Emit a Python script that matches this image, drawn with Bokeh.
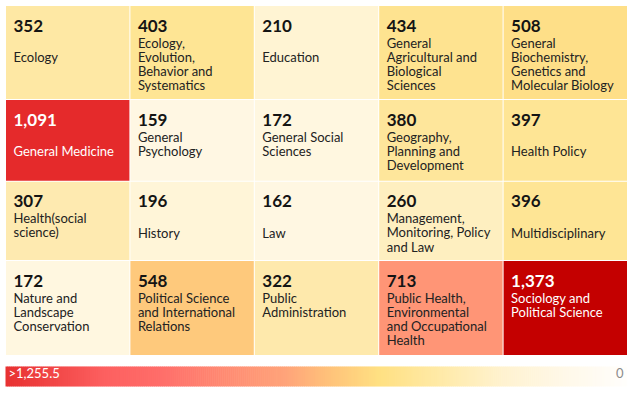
import numpy as np
from bokeh.plotting import figure
from bokeh.models import Range1d, ColumnDataSource, LinearColorMapper
from bokeh.transform import transform
from bokeh.core.properties import value
from bokeh.embed import file_html
from bokeh.resources import INLINE

# ---- data ----
categories = [
    "Ecology", "Ecology,\nEvolution,\nBehavior and\nSystematics", "Education",
    "General\nAgricultural and\nBiological\nSciences",
    "General\nBiochemistry,\nGenetics and\nMolecular Biology",
    "General Medicine", "General\nPsychology", "General Social\nSciences",
    "Geography,\nPlanning and\nDevelopment", "Health Policy",
    "Health(social\nscience)", "History", "Law",
    "Management,\nMonitoring, Policy\nand Law", "Multidisciplinary",
    "Nature and\nLandscape\nConservation",
    "Political Science\nand International\nRelations",
    "Public\nAdministration",
    "Public Health,\nEnvironmental\nand Occupational\nHealth",
    "Sociology and\nPolitical Science",
]
values = [352, 403, 210, 434, 508,
          1091, 159, 172, 380, 397,
          307, 196, 162, 260, 396,
          172, 548, 322, 713, 1373]
scale_max = 1255.5
scale_min = 0
scale_labels = [">1,255.5", "0"]

# ---- layout (pixels) ----
W, H = 632, 392
col_edges = [5 + i * 124.4 for i in range(6)]
row_edges = [5, 99, 180.75, 260, 355]
ncols = 5
dy = -6.5  # text baseline correction


def hex2rgb(h):
    h = h.lstrip("#")
    return [int(h[i:i + 2], 16) for i in (0, 2, 4)]


def build_palette(stops, n):
    pos = np.array([s[0] for s in stops], dtype=float)
    cols = np.array([hex2rgb(s[1]) for s in stops], dtype=float)
    t = np.linspace(pos[0], pos[-1], n)
    out = []
    for tt in t:
        r = np.interp(tt, pos, cols[:, 0])
        g = np.interp(tt, pos, cols[:, 1])
        b = np.interp(tt, pos, cols[:, 2])
        out.append("#%02x%02x%02x" % (int(round(r)), int(round(g)), int(round(b))))
    return out


tile_stops = [(0, "#fffdf6"), (170, "#fff7e1"), (260, "#feefc0"), (307, "#feeab0"),
              (352, "#fee8a4"), (400, "#fee594"), (508, "#fedf88"), (548, "#fec97c"),
              (713, "#ff9576"), (1091, "#e52a2b"), (1255.5, "#d41c1c")]
tile_palette = build_palette(tile_stops, 512)
mapper = LinearColorMapper(palette=tile_palette, low=scale_min, high=scale_max,
                           high_color="#c40000")

bar_stops = [(0, "#e83232"), (0.08, "#f24848"), (0.16, "#fd6060"), (0.25, "#ff6e6a"),
             (0.35, "#ff8a72"), (0.45, "#ffa47a"), (0.52, "#ffc27a"), (0.60, "#ffe082"),
             (0.70, "#ffeaa8"), (0.80, "#fff2cf"), (0.90, "#fff8e8"), (1.0, "#fffefc")]

p = figure(width=W, height=H, output_backend="svg", toolbar_location=None,
           x_range=Range1d(0, W), y_range=Range1d(H, 0),
           x_axis_type=None, y_axis_type=None, min_border=0,
           background_fill_color="white", border_fill_color="white")
p.outline_line_color = None
p.grid.visible = False

lefts, rights, tops, bottoms = [], [], [], []
for i in range(len(values)):
    r, c = divmod(i, ncols)
    lefts.append(col_edges[c] + 0.5)
    rights.append(col_edges[c + 1] - 0.5)
    tops.append(row_edges[r] + 0.5)
    bottoms.append(row_edges[r + 1] - 0.5)

src = ColumnDataSource(dict(left=lefts, right=rights, top=tops, bottom=bottoms, v=values))
p.quad(left="left", right="right", top="top", bottom="bottom", source=src,
       fill_color=transform("v", mapper), line_color=None)

# number labels
nx, ny, ntxt, ncol = [], [], [], []
lx, ly, ltxt, lcol = [], [], [], []
for i, (cat, v) in enumerate(zip(categories, values)):
    r, c = divmod(i, ncols)
    x0 = col_edges[c] + 8
    y0 = row_edges[r] + dy
    light = v > 1000
    nx.append(x0)
    ny.append(y0 + 26.5)
    ntxt.append(f"{v:,}")
    ncol.append("#ffffff" if light else "#141414")
    lines = cat.split("\n")
    if len(lines) == 1:
        starts = y0 + 58
    else:
        starts = y0 + 43.5
    for k, ln in enumerate(lines):
        lx.append(x0)
        ly.append(starts + k * 14.2)
        ltxt.append(ln)
        lcol.append("#ffffff" if light else "#222222")

p.text(x=nx, y=ny, text=ntxt, text_color=ncol, text_font=value("Lato"),
       text_font_size="17px", text_font_style="bold", text_baseline="alphabetic",
       text_align="left")
p.text(x=lx, y=ly, text=ltxt, text_color=lcol, text_font=value("Lato"),
       text_font_size="13px", text_baseline="alphabetic", text_align="left")

# colour scale bar (high on the left, 0 on the right)
N = 310
bx0, bx1 = 5, 627
bar_cols = build_palette(bar_stops, N)
edges = np.linspace(bx0, bx1, N + 1)
p.quad(left=edges[:-1], right=np.append(edges[1:-1] + 0.6, edges[-1]), top=366, bottom=386,
       fill_color=bar_cols, line_color=None)
p.text(x=[8], y=[378.5 + dy], text=[scale_labels[0]], text_color="#ffffff",
       text_font=value("Lato"), text_font_size="13px", text_baseline="alphabetic")
p.text(x=[623], y=[378.5 + dy], text=[scale_labels[1]], text_color="#8c8c8c",
       text_font=value("Lato"), text_font_size="13px", text_baseline="alphabetic",
       text_align="right")

open("out.html", "w").write(file_html(p, INLINE))
